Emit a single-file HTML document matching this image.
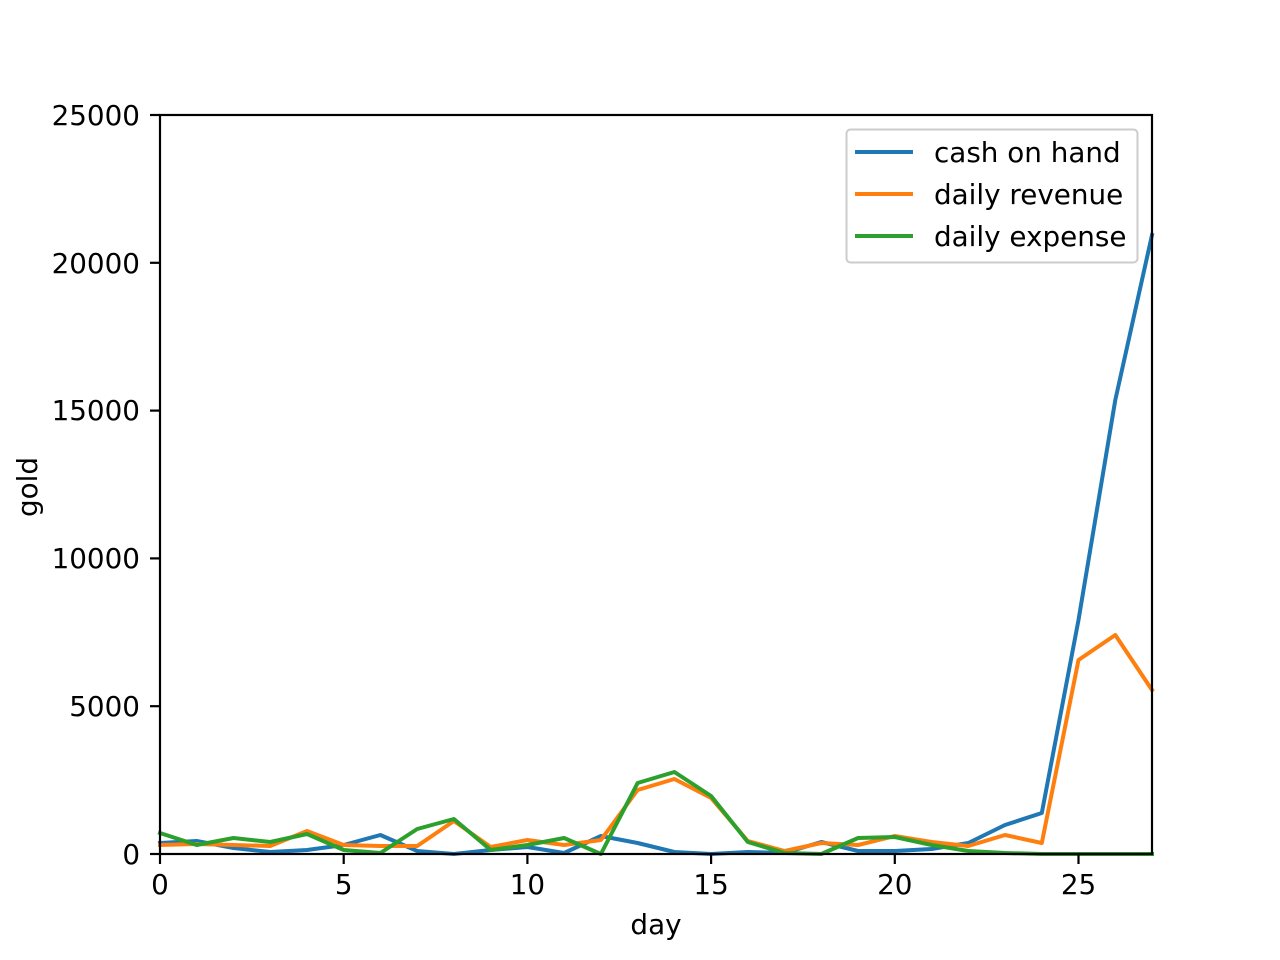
<!DOCTYPE html>
<html><head><meta charset="utf-8"><style>html,body{margin:0;padding:0;background:#fff}svg{display:block}</style></head>
<body>
<svg width="1280" height="960" viewBox="0 0 1280 960" xmlns="http://www.w3.org/2000/svg" font-family="DejaVu Sans, sans-serif" font-size="27.8">
<rect width="1280" height="960" fill="#fff"/>
<g fill="none" stroke-width="4" stroke-linejoin="round" stroke-linecap="square">
<polyline stroke="#1f77b4" points="160,843 196.7,841 233.5,848 270.2,852 307,850 343.7,845 380.4,835 417.2,851 453.9,854 490.7,850 527.4,847 564.1,853 600.9,836 637.6,843 674.4,852 711.1,854 747.8,852 784.6,853 821.3,842 858.1,851 894.8,851 931.6,849 968.3,843 1005,825 1041.8,813 1078.5,620 1115.3,400 1152,235"/>
<polyline stroke="#ff7f0e" points="160,845 196.7,844 233.5,845 270.2,846 307,831 343.7,845 380.4,846 417.2,846 453.9,821 490.7,847 527.4,840 564.1,845 600.9,840 637.6,790 674.4,779 711.1,798 747.8,841 784.6,851 821.3,843 858.1,845 894.8,836 931.6,842 968.3,846 1005,835 1041.8,843 1078.5,660 1115.3,635 1152,690"/>
<polyline stroke="#2ca02c" points="160,833 196.7,845 233.5,838 270.2,842 307,834 343.7,850 380.4,853 417.2,829 453.9,819 490.7,850 527.4,845 564.1,838 600.9,854 637.6,783 674.4,772 711.1,796 747.8,842 784.6,853 821.3,854 858.1,838 894.8,837 931.6,845 968.3,851 1005,853 1041.8,854 1078.5,854 1115.3,854 1152,854"/>
</g>
<rect x="160" y="115" width="992" height="739" fill="none" stroke="#000" stroke-width="2.2"/>
<g stroke="#000" stroke-width="2.2">
<line x1="160" y1="854" x2="160" y2="864"/><line x1="343.7" y1="854" x2="343.7" y2="864"/><line x1="527.4" y1="854" x2="527.4" y2="864"/><line x1="711.1" y1="854" x2="711.1" y2="864"/><line x1="894.8" y1="854" x2="894.8" y2="864"/><line x1="1078.5" y1="854" x2="1078.5" y2="864"/>
<line x1="150" y1="854" x2="160" y2="854"/><line x1="150" y1="706.2" x2="160" y2="706.2"/><line x1="150" y1="558.4" x2="160" y2="558.4"/><line x1="150" y1="410.6" x2="160" y2="410.6"/><line x1="150" y1="262.8" x2="160" y2="262.8"/><line x1="150" y1="115" x2="160" y2="115"/>
</g>
<g text-anchor="middle" fill="#000">
<text x="160" y="894">0</text><text x="343.7" y="894">5</text><text x="527.4" y="894">10</text><text x="711.1" y="894">15</text><text x="894.8" y="894">20</text><text x="1078.5" y="894">25</text>
<text x="656" y="934">day</text>
</g>
<g text-anchor="end" fill="#000">
<text x="140" y="864">0</text><text x="140" y="716">5000</text><text x="140" y="568">10000</text><text x="140" y="420">15000</text><text x="140" y="273">20000</text><text x="140" y="125">25000</text>
</g>
<text transform="translate(37,487) rotate(-90)" text-anchor="middle" fill="#000">gold</text>
<rect x="846.5" y="129.5" width="291" height="133" rx="4" fill="#fff" fill-opacity="0.8" stroke="#ccc" stroke-width="2"/>
<g stroke-width="4"><line x1="855" y1="152" x2="913" y2="152" stroke="#1f77b4"/><line x1="855" y1="194" x2="913" y2="194" stroke="#ff7f0e"/><line x1="855" y1="236" x2="913" y2="236" stroke="#2ca02c"/></g>
<g fill="#000"><text x="934" y="162">cash on hand</text><text x="934" y="204">daily revenue</text><text x="934" y="246">daily expense</text></g>
</svg>
</body></html>
